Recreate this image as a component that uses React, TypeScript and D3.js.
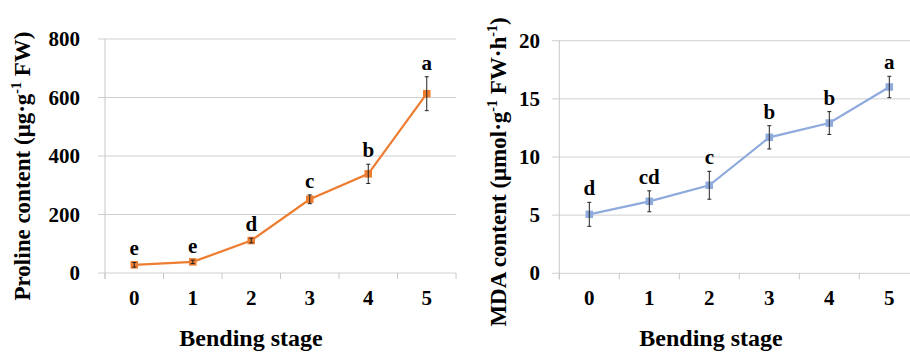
import React from 'react';
import * as d3 from 'd3';

const stages = ['0', '1', '2', '3', '4', '5'];

const prolineMean = [28, 38, 111, 252, 339, 613];
const prolineErr = [8, 6, 8, 15, 33, 58];
const prolineLetters = ['e', 'e', 'd', 'c', 'b', 'a'];
const prolineTicks = [0, 200, 400, 600, 800];

const mdaMean = [5.07, 6.19, 7.57, 11.69, 12.92, 16.02];
const mdaErr = [1.03, 0.9, 1.2, 1.0, 0.98, 0.92];
const mdaLetters = ['d', 'cd', 'c', 'b', 'b', 'a'];
const mdaTicks = [0, 5, 10, 15, 20];

const txt = { fontFamily: "'Liberation Serif', 'DejaVu Serif', serif", fontWeight: 'bold' };

function Panel(props) {
    const { left, right, top, bottom, gridLeft, gridRight, yMax, ticks, means, errs, letters,
        color, yTitle, yTitleX, yTitleY, xTitleX, tickLabelX } = props;

    const x = d3.scaleBand().domain(stages).range([left, right]).padding(0);
    const y = d3.scaleLinear().domain([0, yMax]).range([bottom, top]);
    const cx = (i) => x(stages[i]) + x.bandwidth() / 2;

    const line = d3.line()
        .x((d, i) => cx(i))
        .y((d) => y(d));

    const bounds = stages.map((s) => x(s)).concat([right]);

    return (
        <g>
            {ticks.map((t) => (
                <line key={'g' + t} x1={gridLeft} x2={gridRight} y1={y(t)} y2={y(t)}
                    stroke="#d0d0d0" strokeWidth={1} />
            ))}
            <line x1={left} x2={left} y1={y(yMax)} y2={bottom + 6} stroke="#c8c8c8" strokeWidth={1} />
            {bounds.map((b, i) => (
                <line key={'t' + i} x1={b} x2={b} y1={bottom} y2={bottom + 6} stroke="#c8c8c8" strokeWidth={1} />
            ))}
            {ticks.map((t) => (
                <text key={'l' + t} x={tickLabelX} y={y(t) + 7} textAnchor="end"
                    style={txt} fontSize={21}>{t}</text>
            ))}
            {stages.map((s, i) => (
                <text key={'x' + s} x={cx(i)} y={305} textAnchor="middle"
                    style={txt} fontSize={21}>{s}</text>
            ))}
            <path d={line(means)} fill="none" stroke={color} strokeWidth={2.25} />
            {means.map((m, i) => (
                <rect key={'m' + i} x={cx(i) - 3.75} y={y(m) - 3.75} width={7.5} height={7.5} fill={color} />
            ))}
            {means.map((m, i) => {
                const hi = y(m + errs[i]);
                const lo = y(m - errs[i]);
                return (
                    <g key={'e' + i} stroke="#222" strokeWidth={1}>
                        <line x1={cx(i)} x2={cx(i)} y1={hi} y2={lo} />
                        <line x1={cx(i) - 2} x2={cx(i) + 2} y1={hi} y2={hi} />
                        <line x1={cx(i) - 2} x2={cx(i) + 2} y1={lo} y2={lo} />
                    </g>
                );
            })}
            {means.map((m, i) => (
                <text key={'s' + i} x={cx(i)} y={y(m + errs[i]) - 7} textAnchor="middle"
                    style={txt} fontSize={21}>{letters[i]}</text>
            ))}
            <text transform={`translate(${yTitleX},${yTitleY}) rotate(-90)`} textAnchor="middle"
                style={txt} fontSize={23}>{yTitle}</text>
            <text x={xTitleX} y={346} textAnchor="middle"
                style={txt} fontSize={24}>Bending stage</text>
        </g>
    );
}

export default function App() {
    const sup = (s) => <tspan dy={-9} fontSize={14}>{s}</tspan>;
    return (
        <svg width={910} height={352} style={{ position: 'absolute', left: 0, top: 0, background: '#fff' }}>
            <Panel left={105} right={456} top={39} bottom={273} gridLeft={98} gridRight={456}
                yMax={800} ticks={prolineTicks} means={prolineMean} errs={prolineErr}
                letters={prolineLetters} color="#ed7d31" tickLabelX={80}
                yTitleX={30} yTitleY={166} xTitleX={251}
                yTitle={<>Proline content (μg·g{sup('-1')}<tspan dy={9}> FW)</tspan></>} />
            <Panel left={559.3} right={919.3} top={40.7} bottom={273.3} gridLeft={552} gridRight={910}
                yMax={20} ticks={mdaTicks} means={mdaMean} errs={mdaErr}
                letters={mdaLetters} color="#8faadc" tickLabelX={540}
                yTitleX={506} yTitleY={172} xTitleX={711}
                yTitle={<>MDA content (μmol·g{sup('-1')}<tspan dy={9}> FW·h</tspan>{sup('-1')}<tspan dy={9}>)</tspan></>} />
        </svg>
    );
}
